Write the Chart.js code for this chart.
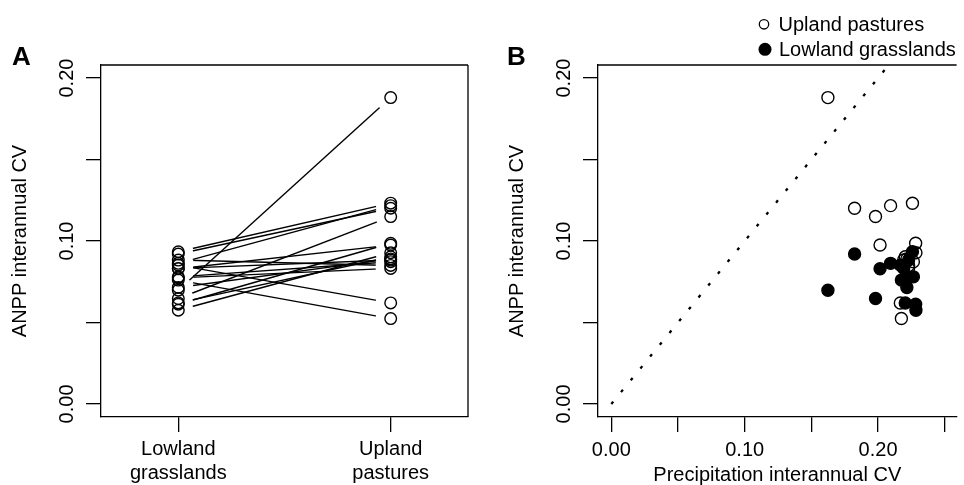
<!DOCTYPE html>
<html>
<head>
<meta charset="utf-8">
<script src="https://cdn.jsdelivr.net/npm/chart.js@4.4.1/dist/chart.umd.min.js"></script>
<style>
  body { margin: 0; background: #fff; }
  #wrap { position: relative; width: 964px; height: 485px; }
  canvas { position: absolute; top: 0; }
  #chartA { left: 0; }
  #chartB { left: 482px; }
</style>
</head>
<body>
<div id="wrap">
  <canvas id="chartA" width="482" height="485"></canvas>
  <canvas id="chartB" width="482" height="485"></canvas>
</div>
<script>
// one entry per site
const precipCV  = [0.1624, 0.1824, 0.1981, 0.2015, 0.2094, 0.2258, 0.2175, 0.2167,
                   0.2282, 0.2284, 0.2204, 0.2192, 0.2265, 0.2229, 0.2229, 0.2216];
const lowlandCV = [0.0698, 0.0920, 0.0647, 0.0830, 0.0863, 0.0934, 0.0760, 0.0852,
                   0.0612, 0.0575, 0.0620, 0.0832, 0.0780, 0.0883, 0.0774, 0.0715];
const uplandCV  = [0.1880, 0.1201, 0.1150, 0.0975, 0.1217, 0.1232, 0.0524, 0.0620,
                   0.0986, 0.0928, 0.0903, 0.0883, 0.0873, 0.0850, 0.0832, 0.0890];

const groupLabels = [["Lowland", "grasslands"], ["Upland", "pastures"]];
const seriesNames = ["Upland pastures", "Lowland grasslands"];
const yTicks = [0, 0.05, 0.10, 0.15, 0.20];
const yLabelled = [0, 0.10, 0.20];
const xTicksB = [0, 0.05, 0.10, 0.15, 0.20, 0.25];
const xLabelledB = [0, 0.10, 0.20];
const oneToOne = [0, 0.25];

const FONT = "'Liberation Sans', Arial, Helvetica, sans-serif";
Chart.defaults.font.family = FONT;
Chart.defaults.font.size = 20;
Chart.defaults.color = "#000";

const has = (list, v) => list.some(t => Math.abs(t - v) < 1e-9);

// box lines that the axes do not draw
const boxPlugin = {
  id: "box",
  afterDraw(chart, args, opts) {
    const { ctx, chartArea: a } = chart;
    ctx.save();
    ctx.strokeStyle = "#000";
    ctx.lineWidth = 1.3;
    ctx.beginPath();
    ctx.moveTo(a.left, a.top); ctx.lineTo(a.right, a.top);
    if (opts.right) { ctx.moveTo(a.right, a.top); ctx.lineTo(a.right, a.bottom); }
    ctx.stroke();
    ctx.restore();
  }
};

// leave a gap in the connecting lines around each point (like R type="b")
const gapPlugin = {
  id: "gaps",
  beforeDatasetDraw(chart, args, opts) {
    if (!chart.data.datasets[args.index].gapped) return;
    const { ctx, chartArea: a } = chart;
    ctx.save();
    ctx.beginPath();
    ctx.rect(a.left, a.top, a.right - a.left, a.bottom - a.top);
    args.meta.data.forEach(p => {
      ctx.moveTo(p.x + opts.r, p.y);
      ctx.arc(p.x, p.y, opts.r, 0, Math.PI * 2);
    });
    ctx.clip("evenodd");
  },
  afterDatasetDraw(chart, args) {
    if (chart.data.datasets[args.index].gapped) chart.ctx.restore();
  }
};

// panel letter and the legend of panel B
const textPlugin = {
  id: "texts",
  afterDraw(chart, args, opts) {
    const ctx = chart.ctx;
    ctx.save();
    ctx.fillStyle = "#000";
    ctx.strokeStyle = "#000";
    ctx.textBaseline = "alphabetic";
    ctx.font = "bold 26px " + FONT;
    ctx.fillText(opts.letter, opts.letterX, 64.5);
    if (opts.legend) {
      ctx.font = "20px " + FONT;
      ctx.lineWidth = 1.3;
      ctx.beginPath();
      ctx.arc(282, 24.3, 4.7, 0, Math.PI * 2);
      ctx.stroke();
      ctx.beginPath();
      ctx.arc(283, 49.3, 6.5, 0, Math.PI * 2);
      ctx.fill();
      ctx.fillText(seriesNames[0], 296.5, 31);
      ctx.fillText(seriesNames[1], 297, 56);
    }
    ctx.restore();
  }
};

function yScale(width, titlePad) {
  return {
    type: "linear", min: -0.008, max: 0.208,
    afterBuildTicks: s => { s.ticks = yTicks.map(v => ({ value: v })); },
    afterFit: s => { s.width = width; },
    ticks: {
      minRotation: 90, maxRotation: 90, crossAlign: "center", padding: -1, autoSkip: false,
      callback: v => has(yLabelled, v) ? v.toFixed(2) : ""
    },
    grid: { drawOnChartArea: false, tickLength: 15, color: "#000", lineWidth: 1.3 },
    border: { color: "#000", width: 1.3 },
    title: {
      display: true, text: "ANPP interannual CV",
      font: { size: 20, lineHeight: 1 }, padding: { top: titlePad, bottom: 0 }
    }
  };
}

const common = {
  responsive: false,
  animation: false,
  events: [],
  plugins: { legend: { display: false }, tooltip: { enabled: false } }
};

// PANEL A
const openPt = { pointStyle: "circle", borderColor: "#000", backgroundColor: "rgba(0,0,0,0)",
                 borderWidth: 1.4, showLine: false };

const pairLines = lowlandCV.map((low, i) => ({
  data: [{ x: 1, y: low }, { x: 2, y: uplandCV[i] }],
  showLine: true, gapped: true, pointRadius: 0,
  borderColor: "#000", borderWidth: 1.4
}));

new Chart(document.getElementById("chartA"), {
  type: "scatter",
  data: {
    datasets: [
      { ...openPt, pointRadius: 5.8, data: lowlandCV.map(y => ({ x: 1, y })) },
      { ...openPt, pointRadius: 5.8, data: uplandCV.map(y => ({ x: 2, y })) },
      ...pairLines
    ]
  },
  options: {
    ...common,
    layout: { padding: { left: 0, right: 14, top: 65, bottom: 0 } },
    scales: {
      x: {
        type: "linear", min: 0.636, max: 2.364,
        afterBuildTicks: s => { s.ticks = [1, 2].map(v => ({ value: v })); },
        afterFit: s => { s.height = 68; },
        ticks: { autoSkip: false, maxRotation: 0, padding: 5, font: { size: 20, lineHeight: 1.2 },
                 callback: v => groupLabels[v - 1] },
        grid: { drawOnChartArea: false, tickLength: 15, color: "#000", lineWidth: 1.3 },
        border: { color: "#000", width: 1.3 }
      },
      y: yScale(101, 10)
    },
    plugins: { ...common.plugins, box: { right: true }, gaps: { r: 15 },
               texts: { letter: "A", letterX: 12 } }
  },
  plugins: [boxPlugin, gapPlugin, textPlugin]
});

// PANEL B
new Chart(document.getElementById("chartB"), {
  type: "scatter",
  data: {
    datasets: [
      { label: seriesNames[1], pointStyle: "circle", pointRadius: 6, borderWidth: 1.4,
        borderColor: "#000", backgroundColor: "#000",
        data: precipCV.map((x, i) => ({ x, y: lowlandCV[i] })) },
      { ...openPt, label: seriesNames[0], pointRadius: 6,
        data: precipCV.map((x, i) => ({ x, y: uplandCV[i] })) },
      { data: oneToOne.map(v => ({ x: v, y: v })), showLine: true, pointRadius: 0,
        borderColor: "#000", borderWidth: 2.3, borderDash: [3, 12.3] }
    ]
  },
  options: {
    ...common,
    layout: { padding: { left: 0, right: 0, top: 65, bottom: 0 } },
    scales: {
      x: {
        type: "linear", min: -0.01, max: 0.2589,
        afterBuildTicks: s => { s.ticks = xTicksB.map(v => ({ value: v })); },
        afterFit: s => { s.height = 68; },
        ticks: { autoSkip: false, maxRotation: 0, padding: 6.5, font: { size: 20, lineHeight: 1.2 },
                 callback: v => has(xLabelledB, v) ? v.toFixed(2) : "" },
        grid: { drawOnChartArea: false, tickLength: 15, color: "#000", lineWidth: 1.3 },
        border: { color: "#000", width: 1.3 },
        title: { display: true, text: "Precipitation interannual CV",
                 font: { size: 20, lineHeight: 1 }, padding: { top: 0, bottom: 0 } }
      },
      y: yScale(116, 25)
    },
    plugins: { ...common.plugins, box: { right: false },
               texts: { letter: "B", letterX: 25, legend: true } }
  },
  plugins: [boxPlugin, textPlugin]
});
</script>
</body>
</html>
